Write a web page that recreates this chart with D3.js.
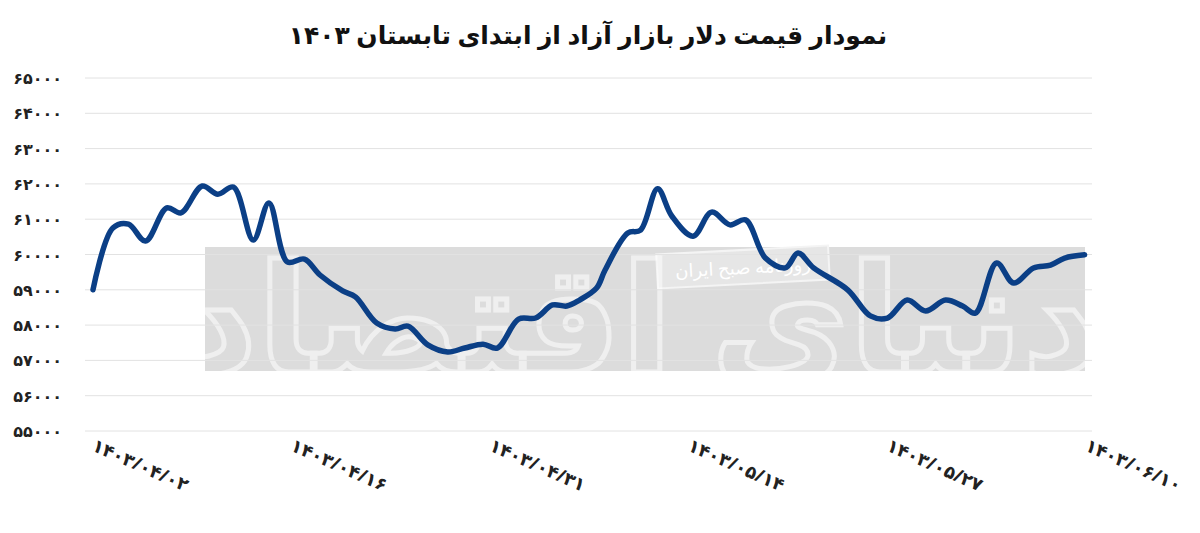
<!DOCTYPE html>
<html><head><meta charset="utf-8">
<script src="https://cdn.jsdelivr.net/npm/d3@7"></script>
<style>body{margin:0;background:#fff;font-family:"Noto Sans","DejaVu Sans",sans-serif}</style>
</head><body><svg id="c" width="1200" height="533"></svg>
<script>
const title = "نمودار قیمت دلار بازار آزاد از ابتدای تابستان ۱۴۰۳";
const tIndex = [0,1.4,2.5,3.7,5.2,6.2,7.7,8.8,9.9,11.3,12.4,13.7,14.9,16,17.6,18.5,20,21.3,22.2,23.6,25,26.2,27.5,28.5,30,31.2,32.4,33.4,34.3,35.5,36.1,37.7,38.6,39.8,40.8,42.3,43.6,44.9,46,47.4,48.8,49.7,50.8,53.2,54.8,56,57.4,58.7,60.1,61.3,62.2,63.7,64.9,66.3,67.5,68.5,69.9];
const price = [59000,60750,60860,60380,61320,61180,61940,61710,61910,60410,61460,59790,59870,59420,58970,58800,58060,57890,57970,57440,57240,57350,57460,57350,58170,58200,58570,58540,58710,59050,59560,60610,60690,61860,61090,60520,61200,60840,60980,59900,59620,60040,59620,59000,58260,58200,58710,58400,58710,58540,58340,59760,59190,59620,59700,59900,59990];
const xTickPos = [0,14,28,42,56,70];
const xTickLabels = ["۱۴۰۳/۰۴/۰۲","۱۴۰۳/۰۴/۱۶","۱۴۰۳/۰۴/۳۱","۱۴۰۳/۰۵/۱۴","۱۴۰۳/۰۵/۲۷","۱۴۰۳/۰۶/۱۰"];
const yTicks = [55000,56000,57000,58000,59000,60000,61000,62000,63000,64000,65000];
const fa = n => String(n).replace(/\d/g, d => "۰۱۲۳۴۵۶۷۸۹"[d]);

const svg = d3.select("#c");
const x = d3.scaleLinear().domain([0,70]).range([93,1086]);
const y = d3.scaleLinear().domain([55000,65000]).range([431,78]);

svg.append("text").attr("x",588).attr("y",44).attr("text-anchor","middle")
  .attr("font-size",25).attr("font-weight","bold").attr("fill","#111").text(title);

// watermark band
svg.append("rect").attr("x",205).attr("y",247).attr("width",880).attr("height",124).attr("fill","#dcdcdc");
svg.append("rect").attr("x",657).attr("y",250).attr("width",172).attr("height",34).attr("fill","#e6e6e6").attr("stroke","#f4f4f4").attr("stroke-width",2).attr("transform","rotate(-3,743,267)");
svg.append("text").attr("x",743).attr("y",274).attr("text-anchor","middle").attr("font-size",18).attr("fill","#fff").attr("transform","rotate(-3,743,267)").text("روزنامه صبح ایران");
svg.append("text").attr("x",640).attr("y",372).attr("text-anchor","middle").attr("font-size",150).attr("font-weight","bold").attr("fill","none").attr("stroke","#fff").attr("stroke-width",5).attr("opacity",0.55).text("دنیای اقتصاد");

// grid
svg.append("g").selectAll("line").data(yTicks).join("line")
  .attr("x1",85).attr("x2",1092).attr("y1",d=>y(d)).attr("y2",d=>y(d))
  .attr("stroke","#e2e2e2").attr("stroke-width",1);
svg.append("g").selectAll("text").data(yTicks).join("text")
  .attr("x",62).attr("y",d=>y(d)+6).attr("text-anchor","end")
  .attr("font-size",16).attr("font-weight","bold").attr("fill","#222").text(d=>fa(d));

// x labels
svg.append("g").selectAll("text").data(xTickPos).join("text")
  .attr("transform",(d)=>`translate(${x(d)-2},450) rotate(24)`)
  .attr("text-anchor","start").attr("direction","ltr")
  .attr("font-size",18).attr("font-weight","bold").attr("fill","#222")
  .text((d,i)=>xTickLabels[i]);

// line
const line = d3.line().x((d,i)=>x(tIndex[i])).y(d=>y(d)).curve(d3.curveCatmullRom.alpha(0.5));
svg.append("path").datum(price).attr("d",line).attr("fill","none")
  .attr("stroke","#0b3f86").attr("stroke-width",5.5).attr("stroke-linejoin","round").attr("stroke-linecap","round");
</script></body></html>
